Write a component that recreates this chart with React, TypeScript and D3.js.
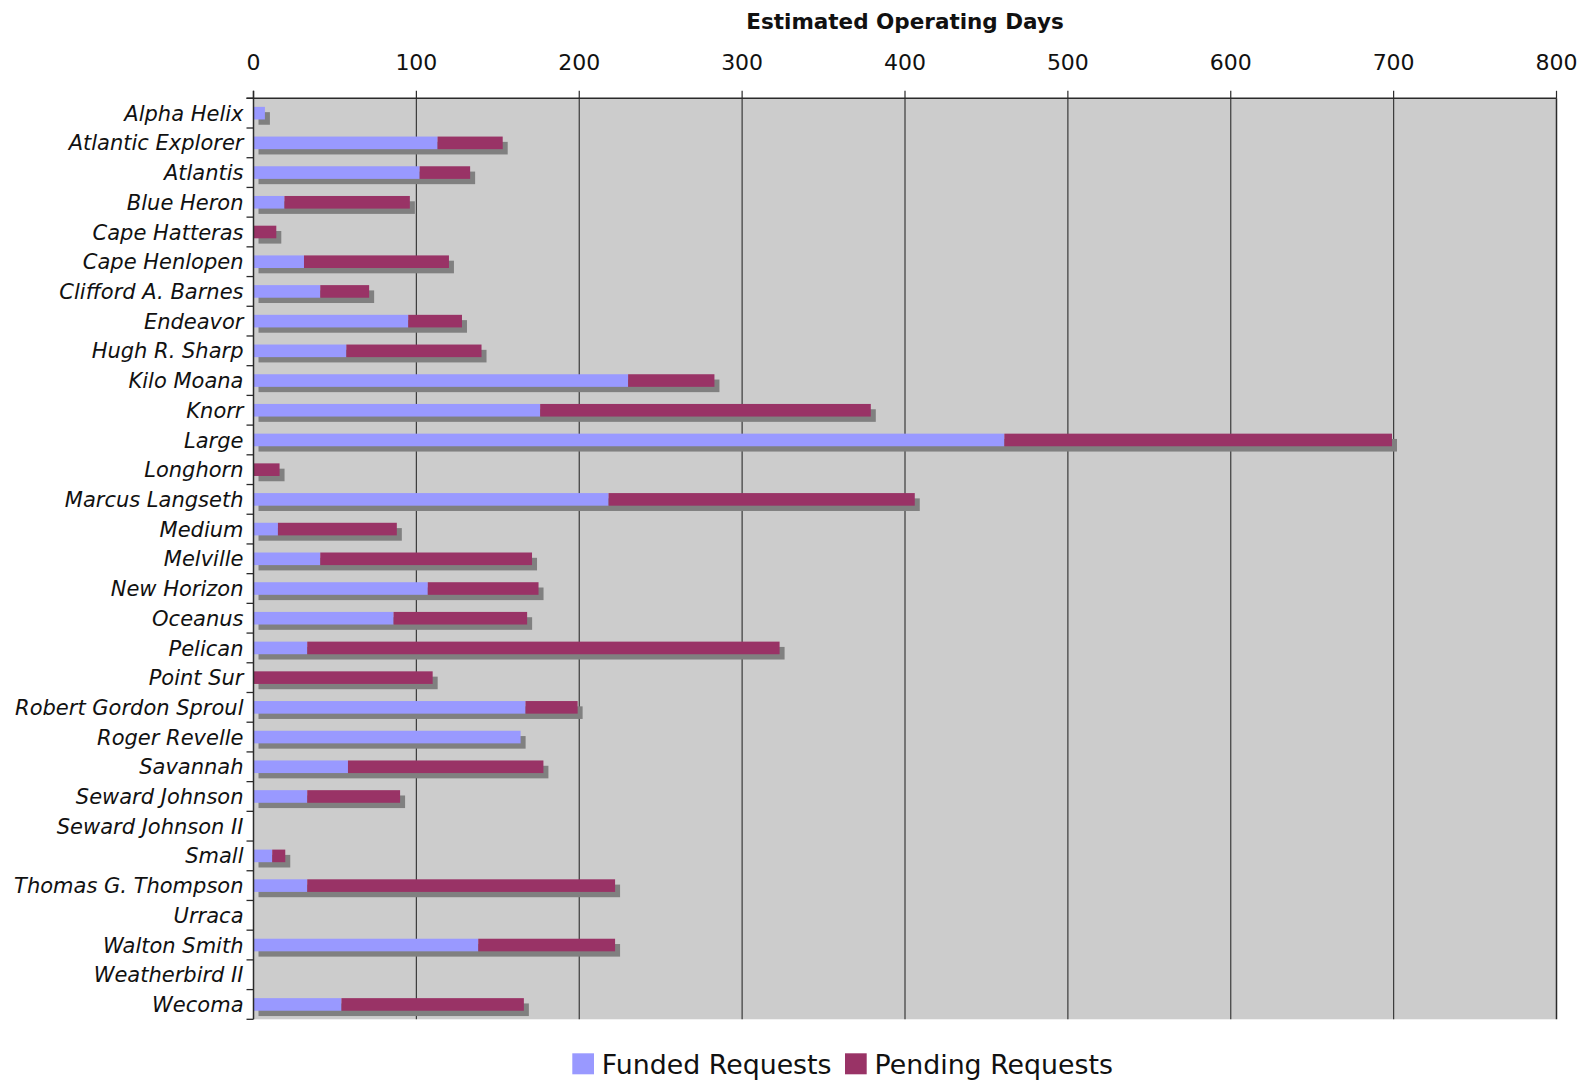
import React from "react";
import * as d3 from "d3";

const categories = [
  "Alpha Helix", "Atlantic Explorer", "Atlantis", "Blue Heron", "Cape Hatteras",
  "Cape Henlopen", "Clifford A. Barnes", "Endeavor", "Hugh R. Sharp", "Kilo Moana",
  "Knorr", "Large", "Longhorn", "Marcus Langseth", "Medium", "Melville",
  "New Horizon", "Oceanus", "Pelican", "Point Sur", "Robert Gordon Sproul",
  "Roger Revelle", "Savannah", "Seward Johnson", "Seward Johnson II", "Small",
  "Thomas G. Thompson", "Urraca", "Walton Smith", "Weatherbird II", "Wecoma",
];
const funded = [
  7, 113, 102, 19, 0,
  31, 41, 95, 57, 230,
  176, 461, 0, 218, 15, 41,
  107, 86, 33, 0, 167,
  164, 58, 33, 0, 11.5,
  33, 0, 138, 0, 54,
];
const pending = [
  0, 40, 31, 77, 14,
  89, 30, 33, 83, 53,
  203, 238, 16, 188, 73, 130,
  68, 82, 290, 110, 32,
  0, 120, 57, 0, 8,
  189, 0, 84, 0, 112,
];
const xTicks = [0, 100, 200, 300, 400, 500, 600, 700, 800];
const seriesNames = ["Funded Requests", "Pending Requests"];
const seriesColors = ["#9999FF", "#993366"];
const title = "Estimated Operating Days";

const W = 1595;
const H = 1081;
const left = 253.5;
const right = 1556.5;
const top = 98.3;
const bottom = 1019.3;
const FONT = "'DejaVu Sans', Verdana, sans-serif";

export default function App() {
  const x = d3.scaleLinear().domain([0, 800]).range([left, right]);
  const y = d3.scaleBand<string>().domain(categories).range([top, bottom]).paddingInner(0).paddingOuter(0);
  const bw = y.bandwidth();
  const barH = 12.6;
  const sdx = 5;
  const sdy = 5.3;

  const boundaries = d3.range(categories.length + 1).map((i) => top + i * bw);

  return (
    <svg width={W} height={H} style={{ position: "absolute", left: 0, top: 0 }}>
      <rect x={0} y={0} width={W} height={H} fill="#ffffff" />
      <rect x={left} y={top} width={right - left} height={bottom - top} fill="#CCCCCC" />
      {xTicks.slice(1, -1).map((t) => (
        <line key={"g" + t} x1={x(t)} x2={x(t)} y1={top} y2={bottom} stroke="#3a3a3a" strokeWidth={1.2} />
      ))}
      <line x1={right} x2={right} y1={top} y2={bottom} stroke="#2a2a2a" strokeWidth={1.5} />
      {categories.map((c, i) => {
        const total = funded[i] + pending[i];
        const yc = (y(c) as number) + bw / 2;
        const y0 = yc - barH / 2;
        return (
          <g key={c}>
            {total > 0 && (
              <rect x={x(0) + sdx} y={y0 + sdy} width={x(total) - x(0)} height={barH} fill="#808080" />
            )}
            {funded[i] > 0 && (
              <rect x={x(0)} y={y0} width={x(funded[i]) - x(0)} height={barH} fill={seriesColors[0]} />
            )}
            {pending[i] > 0 && (
              <rect x={x(funded[i])} y={y0} width={x(total) - x(funded[i])} height={barH} fill={seriesColors[1]} />
            )}
          </g>
        );
      })}
      <line x1={left - 7} x2={right} y1={top} y2={top} stroke="#2a2a2a" strokeWidth={1.5} />
      {xTicks.map((t) => (
        <g key={"t" + t}>
          <line x1={x(t)} x2={x(t)} y1={top - 7.5} y2={top} stroke="#2a2a2a" strokeWidth={1.2} />
          <text x={x(t)} y={70} textAnchor="middle" fontFamily={FONT} fontSize={22} fill="#111">
            {t}
          </text>
        </g>
      ))}
      <line x1={left} x2={left} y1={top - 7.5} y2={bottom} stroke="#2a2a2a" strokeWidth={1.5} />
      {boundaries.map((b, i) => (
        <line key={"b" + i} x1={left - 7} x2={left} y1={b} y2={b} stroke="#2a2a2a" strokeWidth={1.3} />
      ))}
      {categories.map((c) => (
        <text
          key={"l" + c}
          x={243.5}
          y={(y(c) as number) + bw / 2 + 7.6}
          textAnchor="end"
          fontFamily={FONT}
          fontStyle="italic"
          fontSize={21}
          fill="#111"
        >
          {c}
        </text>
      ))}
      <text x={(left + right) / 2} y={28.5} textAnchor="middle" fontFamily={FONT} fontWeight="bold" fontSize={21.5} fill="#111">
        {title}
      </text>
      {seriesNames.map((s, i) => {
        const lx = [572.3, 845][i];
        return (
          <g key={s}>
            <rect x={lx} y={1053.3} width={21.7} height={21} fill={seriesColors[i]} />
            <text x={lx + 29.5} y={1074.3} fontFamily={FONT} fontSize={26.8} fill="#111">
              {s}
            </text>
          </g>
        );
      })}
    </svg>
  );
}
